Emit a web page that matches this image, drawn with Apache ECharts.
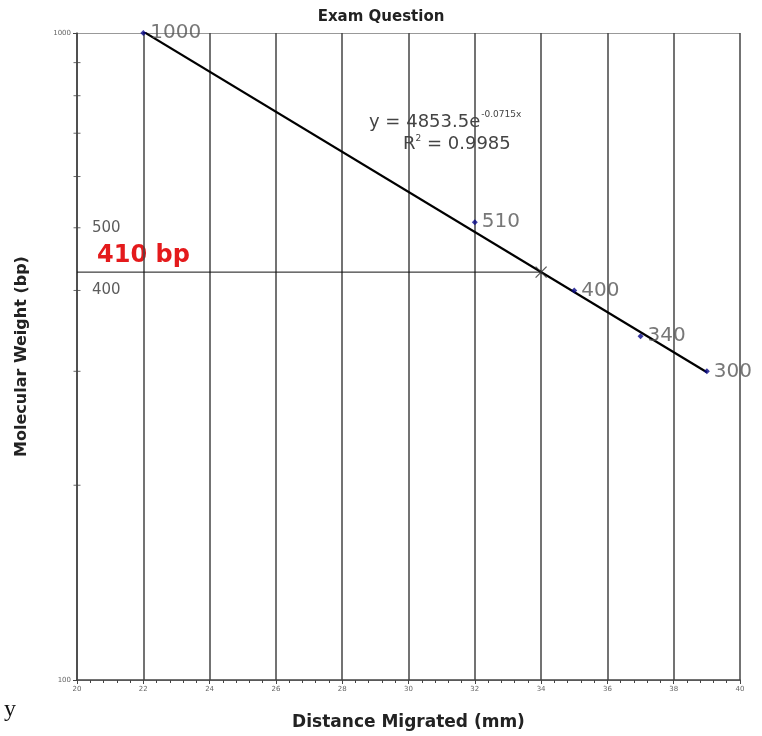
<!DOCTYPE html>
<html>
<head>
<meta charset="utf-8">
<script src="https://cdn.jsdelivr.net/npm/echarts@6/dist/echarts.min.js"></script>
<style>
  html, body { margin: 0; padding: 0; background: #fff; }
  #chart { width: 762px; height: 736px; }
</style>
</head>
<body>
<div id="chart"></div>
<script>
// ladder bands
const distances = [22, 32, 35, 37, 39];
const weights = [1000, 510, 400, 340, 300];
// trend line end points (y = 4853.5e^-0.0715x)
const fitLine = [[22, 1005], [39, 299]];
// unknown band
const unknownX = 34;
const unknownY = 427;
const yMinorTicks = [200, 300, 400, 500, 600, 700, 800, 900];
const yInnerLabels = [500, 400];

const chart = echarts.init(document.getElementById('chart'));

const font = 'DejaVu Sans';

const option = {
  animation: false,
  backgroundColor: '#fff',
  title: {
    text: 'Exam Question',
    left: 'center',
    top: 5,
    textStyle: { fontFamily: font, fontSize: 15, fontWeight: 'bold', color: '#222' }
  },
  grid: { left: 77, right: 22, top: 33, bottom: 53 },
  xAxis: {
    type: 'value',
    min: 20,
    max: 40,
    interval: 2,
    name: 'Distance Migrated (mm)',
    nameLocation: 'middle',
    nameGap: 34,
    nameTextStyle: { fontFamily: font, fontSize: 17, fontWeight: 'bold', color: '#222' },
    axisLine: { lineStyle: { color: '#444', width: 1.5 } },
    axisTick: { length: 4, lineStyle: { color: '#444' } },
    minorTick: { show: true, splitNumber: 5, length: 3, lineStyle: { color: '#444' } },
    axisLabel: { fontFamily: font, fontSize: 7, color: '#666', margin: 6 },
    splitLine: { show: true, lineStyle: { color: '#444', width: 1.5 } }
  },
  yAxis: {
    type: 'log',
    logBase: 10,
    min: 100,
    max: 1000,
    name: 'Molecular Weight (bp)',
    nameLocation: 'middle',
    nameGap: 47,
    nameTextStyle: { fontFamily: font, fontSize: 16, fontWeight: 'bold', color: '#222' },
    axisLine: { lineStyle: { color: '#444', width: 1.5 } },
    axisTick: { length: 4, lineStyle: { color: '#444' } },
    axisLabel: { fontFamily: font, fontSize: 7, color: '#666', margin: 6, formatter: v => String(Math.round(v)) },
    splitLine: { show: true, lineStyle: { color: '#999', width: 1 } }
  },
  series: [
    {
      type: 'line',
      data: [[20, unknownY], [unknownX, unknownY]],
      symbol: 'none',
      lineStyle: { color: '#111', width: 1 },
      z: 3
    },
    {
      type: 'line',
      data: fitLine,
      symbol: 'none',
      lineStyle: { color: '#000', width: 2.2 },
      z: 4
    },
    {
      type: 'scatter',
      data: distances.map((d, i) => [d, weights[i]]),
      symbol: 'diamond',
      symbolSize: 6,
      itemStyle: { color: '#0a0a8a' },
      label: {
        show: true,
        position: 'right',
        distance: 4,
        formatter: p => String(p.value[1]),
        fontFamily: font,
        fontSize: 20,
        color: '#555'
      },
      z: 5
    },
    {
      type: 'scatter',
      data: [[unknownX, unknownY]],
      symbol: 'path://M0,0L10,10M10,0L0,10',
      symbolSize: 11,
      itemStyle: { color: 'none', borderColor: '#333', borderWidth: 1.3 },
      z: 6
    },
    {
      type: 'scatter',
      data: yMinorTicks.map(v => [20, v]),
      symbol: 'rect',
      symbolSize: [7, 1],
      itemStyle: { color: '#444' },
      clip: false,
      silent: true
    },
    {
      type: 'scatter',
      data: yInnerLabels.map(v => [20, v]),
      symbolSize: 0,
      label: {
        show: true,
        position: 'right',
        distance: 15,
        formatter: p => String(p.value[1]),
        fontFamily: font,
        fontSize: 15,
        color: '#333'
      },
      silent: true
    }
  ],
  graphic: [
    {
      type: 'text',
      left: 97,
      top: 244,
      style: { text: '410 bp', fontFamily: font, fontSize: 24, fontWeight: 'bold', fill: '#e41a1c' }
    },
    {
      type: 'text',
      left: 369,
      top: 110,
      style: {
        text: '{a|y = 4853.5e}{b|-0.0715x}',
        rich: {
          a: { fontFamily: font, fontSize: 18, fill: '#444', verticalAlign: 'bottom' },
          b: { fontFamily: font, fontSize: 9, fill: '#444', verticalAlign: 'top', padding: [0, 0, 12, 1] }
        }
      }
    },
    {
      type: 'text',
      left: 403,
      top: 134,
      style: {
        text: '{a|R}{b|2}{a| = 0.9985}',
        rich: {
          a: { fontFamily: font, fontSize: 18, fill: '#444' },
          b: { fontFamily: font, fontSize: 9, fill: '#444', padding: [0, 0, 12, 0] }
        }
      }
    },
    {
      type: 'text',
      left: 4,
      top: 698,
      style: { text: 'y', fontFamily: 'Liberation Serif', fontSize: 24, fill: '#111' }
    }
  ]
};

chart.setOption(option);
</script>
</body>
</html>
